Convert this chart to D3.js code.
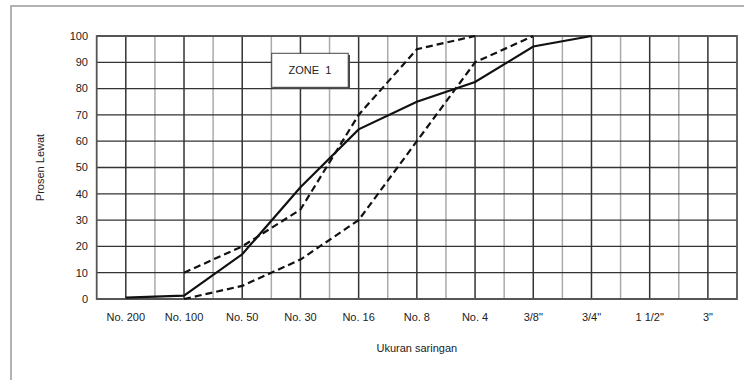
<!DOCTYPE html>
<html>
<head>
<meta charset="utf-8">
<script src="https://cdn.jsdelivr.net/npm/d3@7"></script>
<style>
  body { margin: 0; background: #fff; }
  text { font-family: "Liberation Sans", Arial, sans-serif; fill: #222; }
</style>
</head>
<body>
<svg width="744" height="380"></svg>
<script>
// sieve sizes on the x axis
var sieves = ["No. 200", "No. 100", "No. 50", "No. 30", "No. 16", "No. 8", "No. 4", "3/8\"", "3/4\"", "1 1/2\"", "3\""];
var yTicks = [0, 10, 20, 30, 40, 50, 60, 70, 80, 90, 100];

// percent passing (null = no point)
var passing    = [0.5, 1.3, 17, 42.5, 64.5, 75, 82.5, 96, 100, null, null];
var lowerLimit = [null, 0, 5, 15, 30, 60, 90, 100, null, null, null];
var upperLimit = [null, 10, 20, 34, 70, 95, 100, null, null, null, null];

var svg = d3.select("svg"),
    plotL = 96.7, plotR = 737, plotT = 36, plotB = 299;

// outer frame (cut off by the picture on the right and bottom)
svg.append("rect")
    .attr("x", 11).attr("y", 6)
    .attr("width", 900).attr("height", 500)
    .attr("fill", "none")
    .attr("stroke", "#999")
    .attr("stroke-width", 1.5);

var x = d3.scalePoint().domain(sieves).range([plotL, plotR]).padding(0.5);
var y = d3.scaleLinear().domain([0, 100]).range([plotB, plotT]);
var step = x.step();

var grid = svg.append("g");

// light vertical lines halfway between sieves
grid.selectAll(".minor")
  .data(sieves.slice(0, -1))
  .enter().append("line")
    .attr("x1", function(d) { return x(d) + step / 2; })
    .attr("x2", function(d) { return x(d) + step / 2; })
    .attr("y1", plotT).attr("y2", plotB)
    .attr("stroke", "#aaa")
    .attr("stroke-width", 1.5);

// horizontal lines
grid.selectAll(".hline")
  .data(yTicks)
  .enter().append("line")
    .attr("x1", plotL).attr("x2", plotR)
    .attr("y1", function(d) { return y(d); })
    .attr("y2", function(d) { return y(d); })
    .attr("stroke", "#333")
    .attr("stroke-width", 1.3);

// dark vertical lines at each sieve
grid.selectAll(".major")
  .data(sieves)
  .enter().append("line")
    .attr("x1", function(d) { return x(d); })
    .attr("x2", function(d) { return x(d); })
    .attr("y1", plotT).attr("y2", plotB)
    .attr("stroke", "#333")
    .attr("stroke-width", 1.5);

grid.append("rect")
    .attr("x", plotL).attr("y", plotT)
    .attr("width", plotR - plotL).attr("height", plotB - plotT)
    .attr("fill", "none")
    .attr("stroke", "#555")
    .attr("stroke-width", 1.8);

// axes labels
svg.append("g")
  .selectAll("text")
  .data(yTicks)
  .enter().append("text")
    .attr("x", 88)
    .attr("y", function(d) { return y(d); })
    .attr("dy", "0.35em")
    .attr("text-anchor", "end")
    .style("font-size", "11px")
    .text(function(d) { return d; });

svg.append("g")
  .selectAll("text")
  .data(sieves)
  .enter().append("text")
    .attr("x", function(d) { return x(d); })
    .attr("y", 321)
    .attr("text-anchor", "middle")
    .style("font-size", "11px")
    .text(function(d) { return d; });

svg.append("text")
    .attr("x", (plotL + plotR) / 2)
    .attr("y", 352)
    .attr("text-anchor", "middle")
    .style("font-size", "11px")
    .text("Ukuran saringan");

svg.append("text")
    .attr("transform", "translate(44," + ((plotT + plotB) / 2) + ") rotate(-90)")
    .attr("text-anchor", "middle")
    .style("font-size", "11px")
    .text("Prosen Lewat");

// gradation curves
function curve(values) {
  return d3.line()
    .defined(function(d) { return d != null; })
    .x(function(d, i) { return x(sieves[i]); })
    .y(function(d) { return y(d); })(values);
}

svg.append("path")
    .attr("d", curve(lowerLimit))
    .attr("fill", "none")
    .attr("stroke", "#111")
    .attr("stroke-width", 2.2)
    .attr("stroke-dasharray", "7,4");

svg.append("path")
    .attr("d", curve(upperLimit))
    .attr("fill", "none")
    .attr("stroke", "#111")
    .attr("stroke-width", 2.2)
    .attr("stroke-dasharray", "7,4");

svg.append("path")
    .attr("d", curve(passing))
    .attr("fill", "none")
    .attr("stroke", "#111")
    .attr("stroke-width", 2.2);

// zone label box
var box = svg.append("g");
box.append("rect")
    .attr("x", 273.5).attr("y", 55)
    .attr("width", 76.5).attr("height", 34)
    .attr("fill", "#444");
box.append("rect")
    .attr("x", 271.7).attr("y", 53.3)
    .attr("width", 76.5).attr("height", 34)
    .attr("fill", "#fff")
    .attr("stroke", "#444")
    .attr("stroke-width", 1);
box.append("text")
    .attr("x", 310).attr("y", 70.3)
    .attr("dy", "0.35em")
    .attr("text-anchor", "middle")
    .style("font-size", "11px")
    .style("white-space", "pre")
    .text("ZONE  1");
</script>
</body>
</html>
